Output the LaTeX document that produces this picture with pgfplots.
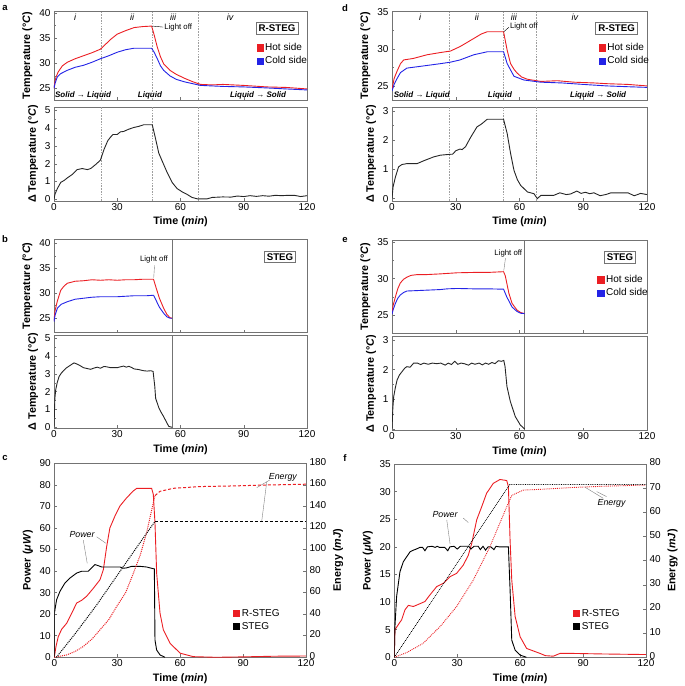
\documentclass[border=0pt]{standalone}
\usepackage{fontspec}
\setmainfont{Liberation Sans}
\usepackage{pgfplots}
\pgfplotsset{compat=1.18}
\definecolor{hot}{RGB}{235,30,35}
\definecolor{cold}{RGB}{35,35,230}
\definecolor{frame}{RGB}{115,115,115}
\tikzset{
  vdash/.style={gray!75, dash pattern=on 1.6pt off 1.2pt, line width=0.4pt},
  vsolid/.style={frame, line width=0.6pt},
  reg/.style={font=\itshape\fontsize{9}{10}\selectfont},
  phase/.style={font=\bfseries\itshape\fontsize{8}{9}\selectfont},
  lo/.style={font=\fontsize{7.8}{9}\selectfont, inner sep=1pt},
  boxlab/.style={draw=frame, line width=0.6pt, fill=white, font=\bfseries\fontsize{9.7}{11}\selectfont, inner sep=2.5pt},
  ann/.style={font=\itshape\fontsize{8.8}{10}\selectfont, inner sep=1pt},
  lead/.style={gray, line width=0.4pt},
}
\pgfplotsset{
  base/.style={scale only axis, axis line style={frame, line width=0.6pt},
    tick style={frame, line width=0.5pt}, major tick length=3pt, minor tick length=2pt,
    tick align=inside, xtick pos=bottom, ytick pos=left,
    tick label style={font=\fontsize{10}{12}\selectfont},
    xticklabel style={yshift=1.5pt},
    label style={font=\bfseries\fontsize{10.8}{13}\selectfont},
    /pgf/number format/assume math mode=true,
    xmin=0, xmax=120, xtick={0,30,60,90,120},
    legend cell align=left,
    legend image code/.code={\fill[##1] (0pt,-3pt) rectangle (6.2pt,3.2pt);},
    legend style={draw=none, fill=none, font=\fontsize{10}{12}\selectfont, inner sep=0pt, row sep=0.5pt, anchor=north west},
  },
  toppanel/.style={base, xticklabels={}, minor y tick num=1, ylabel={Temperature (°\textit{C})}},
  botpanel/.style={base, minor y tick num=1, xlabel={Time (\textit{min})}, ylabel={Δ Temperature (°\textit{C})}, ytick distance=1},
  hotl/.style={hot, line width=0.9pt, forget plot},
  coldl/.style={cold, line width=0.9pt, forget plot},
  dtl/.style={black!85, line width=0.9pt, forget plot},
}
\begin{document}
\begin{tikzpicture}
\path[use as bounding box] (0,0) rectangle (685pt,686pt);
% panel letters
\node[font=\bfseries\fontsize{9.5}{11}\selectfont] at (5pt,678pt) {a};
\node[font=\bfseries\fontsize{9.5}{11}\selectfont] at (345pt,678pt) {d};
\node[font=\bfseries\fontsize{9.5}{11}\selectfont] at (5pt,447pt) {b};
\node[font=\bfseries\fontsize{9.5}{11}\selectfont] at (345pt,446pt) {e};
\node[font=\bfseries\fontsize{9.5}{11}\selectfont] at (5pt,228pt) {c};
\node[font=\bfseries\fontsize{9.5}{11}\selectfont] at (345pt,228pt) {f};

%================ panel a top
\begin{axis}[toppanel, at={(54pt,586pt)}, anchor=south west, width=253pt, height=89pt,
  ymin=22.7, ymax=40.4, ytick={25,30,35,40}, legend style={at={(0.8,0.66)}}]
\addlegendimage{hot}\addlegendentry{Hot side}
\addlegendimage{cold}\addlegendentry{Cold side}
\draw[vdash] (axis cs:22.3,22.7) -- (axis cs:22.3,40.4);
\draw[vdash] (axis cs:46.5,22.7) -- (axis cs:46.5,40.4);
\draw[vdash] (axis cs:68.3,22.7) -- (axis cs:68.3,40.4);
\addplot[hotl] coordinates {(0,25) (0.5,26.5) (1,27.3) (2,28.3) (4,29.5) (6.3,30.2) (10,30.9) (14,31.5) (18,32.1) (22,32.8) (24,33.6) (27,34.8) (30,35.8) (34,36.5) (38,37.1) (42,37.3) (46.3,37.4) (47.4,35.8) (49,33.2) (50.5,31.3) (52,29.9) (55,28.6) (58,27.8) (62,27) (66,26.3) (69.5,25.8) (75,25.7) (80,25.8) (85,25.7) (90,25.6) (101,25.3) (110,25.2) (120,24.9)};
\addplot[coldl] coordinates {(0,25) (0.5,26) (1,26.6) (1.6,27.3) (3,27.9) (6.3,28.6) (10,29.2) (14,29.6) (18,30.2) (22,30.9) (26,31.5) (30,32.2) (34,32.7) (38,33) (46.3,33) (47.5,32.2) (49,30.9) (50.5,29.5) (52,28.6) (55,27.5) (58,26.8) (62,26.3) (69.5,25.6) (80,25.4) (90,25.3) (101,25.1) (110,24.9) (120,24.7)};
\node[reg] at (axis cs:10,39.2) {i};
\node[reg] at (axis cs:37,39.2) {ii};
\node[reg] at (axis cs:56.5,39.2) {iii};
\node[reg] at (axis cs:83.5,39.2) {iv};
\draw[lead, black] (axis cs:46.6,37.4) -- (axis cs:51.8,37.2);
\node[lo, anchor=west] at (axis cs:51.8,37.2) {Light off};
\node[boxlab] at (axis cs:105.8,37) {R-STEG};
\node[phase] at (axis cs:13.8,23.6) {Solid → Liquid};
\node[phase] at (axis cs:45.5,23.6) {Liquid};
\node[phase] at (axis cs:96.8,23.6) {Liquid → Solid};
\end{axis}
%================ panel a bottom
\begin{axis}[botpanel, at={(54pt,485pt)}, anchor=south west, width=253pt, height=94pt,
  ymin=-0.1, ymax=5.2]
\draw[vdash] (axis cs:22.3,-0.1) -- (axis cs:22.3,5.2);
\draw[vdash] (axis cs:46.5,-0.1) -- (axis cs:46.5,5.2);
\draw[vdash] (axis cs:68.3,-0.1) -- (axis cs:68.3,5.2);
\addplot[dtl] coordinates {(0,0) (0.5,0.3) (1.6,0.6) (3.2,0.95) (4.7,1.05) (6.3,1.2) (8.7,1.4) (11,1.67) (13.4,1.73) (15.8,1.67) (17.4,1.73) (19.7,1.95) (22,2.2) (23.7,2.8) (25.5,3.3) (26.8,3.5) (28,3.65) (30,3.65) (31.5,3.8) (33,3.82) (35.5,3.95) (38,4.05) (40,4.1) (42.6,4.2) (46.6,4.2) (48,3.5) (49.7,2.6) (51.5,2.1) (53.7,1.5) (56,0.95) (58.4,0.6) (61,0.4) (63,0.28) (65.5,0.1) (68,0.02) (72.6,0.02) (75,0.1) (80,0.13) (84,0.12) (87,0.18) (90,0.15) (93,0.2) (96,0.16) (99,0.2) (102,0.17) (105,0.22) (108,0.2) (111,0.22) (114,0.22) (117,0.15) (120,0.2)};
\end{axis}

%================ panel d top
\begin{axis}[toppanel, at={(392pt,586pt)}, anchor=south west, width=255pt, height=89pt,
  ymin=23.1, ymax=35.1, ytick={25,30,35}, legend style={at={(0.81,0.66)}}]
\addlegendimage{hot}\addlegendentry{Hot side}
\addlegendimage{cold}\addlegendentry{Cold side}
\draw[vdash] (axis cs:26.8,23.1) -- (axis cs:26.8,35.1);
\draw[vdash] (axis cs:52.4,23.1) -- (axis cs:52.4,35.1);
\draw[vdash] (axis cs:68,23.1) -- (axis cs:68,35.1);
\addplot[hotl] coordinates {(0,24.5) (1,26) (2.4,27) (4,28) (5.5,28.5) (10,28.7) (16.5,29.2) (22.8,29.5) (27.5,29.7) (32,30.3) (35,30.8) (38.5,31.4) (42,32) (44.8,32.3) (52.5,32.3) (54.2,29.8) (55.8,28) (57.5,27.2) (59,26.7) (61,26.2) (63.7,25.9) (70,25.6) (77.8,25.7) (85.7,25.5) (95,25.4) (101,25.3) (111,25.2) (120,25)};
\addplot[coldl] coordinates {(0,24.3) (1,25.2) (2.4,26) (4,26.8) (7,27.4) (15,27.7) (22.8,28.0) (27.5,28.2) (32,28.5) (38.5,29.2) (44.8,29.6) (52.5,29.6) (54.2,28) (57.4,26.3) (62,25.8) (70,25.5) (80,25.4) (90,25.2) (101,25.0) (110,24.9) (120,24.8)};
\node[reg] at (axis cs:13.2,34.25) {i};
\node[reg] at (axis cs:39.9,34.25) {ii};
\node[reg] at (axis cs:57.4,34.25) {iii};
\node[reg] at (axis cs:86.1,34.25) {iv};
\draw[lead, black] (axis cs:52.6,32.3) -- (axis cs:55,32.9);
\node[lo, anchor=west] at (axis cs:55,32.95) {Light off};
\node[boxlab] at (axis cs:105.7,32.8) {R-STEG};
\node[phase] at (axis cs:14,23.65) {Solid → Liquid};
\node[phase] at (axis cs:50.8,23.65) {Liquid};
\node[phase] at (axis cs:97,23.65) {Liquid → Solid};
\end{axis}
%================ panel d bottom
\begin{axis}[botpanel, at={(392pt,485pt)}, anchor=south west, width=255pt, height=94pt,
  ymin=-0.08, ymax=3.14]
\draw[vdash] (axis cs:26.8,-0.08) -- (axis cs:26.8,3.14);
\draw[vdash] (axis cs:52.4,-0.08) -- (axis cs:52.4,3.14);
\draw[vdash] (axis cs:68,-0.08) -- (axis cs:68,3.14);
\addplot[dtl] coordinates {(0,0) (0.5,0.4) (1.6,0.74) (3.1,1.09) (4.7,1.17) (7,1.2) (11.8,1.2) (15,1.3) (19.6,1.43) (22.8,1.49) (27.5,1.52) (28.5,1.52) (30,1.64) (32,1.7) (33,1.68) (34.6,1.78) (37,2.1) (40,2.46) (42,2.55) (44.8,2.72) (52.5,2.72) (54.2,2.23) (55.8,1.55) (57.4,0.97) (59,0.65) (60.5,0.46) (63.7,0.23) (66.8,0.17) (68.4,0) (70,0.11) (76,0.11) (79,0.2) (82,0.14) (84,0.16) (87,0.26) (89,0.18) (91,0.22) (93,0.17) (95,0.2) (98,0.1) (101,0.15) (103,0.2) (107,0.2) (111,0.2) (114,0.1) (117,0.18) (120,0.14)};
\end{axis}

%================ panel b top
\begin{axis}[toppanel, at={(54pt,353.3pt)}, anchor=south west, width=253pt, height=93.4pt,
  ymin=22.1, ymax=40.8, ytick={25,30,35,40}]
\draw[vsolid] (axis cs:56,22.1) -- (axis cs:56,40.8);
\addplot[hotl] coordinates {(0,24.5) (0.5,26.5) (1.5,28.3) (3.2,30.6) (4.7,31.4) (6.3,32) (10,32.4) (14,32.5) (18,32.7) (22,32.6) (26,32.7) (30,32.6) (34,32.7) (38,32.7) (42,32.8) (47.2,32.8) (48.5,31) (50,29) (52,27) (53.5,25.8) (55,25.1) (56,25)};
\addplot[coldl] coordinates {(0,24.3) (0.5,25.6) (1.6,27) (3.5,27.8) (6.3,28.3) (10,28.8) (14,29) (18,29.2) (22,29.3) (30,29.3) (38,29.5) (44,29.5) (47.2,29.6) (48.5,28.5) (50,27.2) (52,26) (53.5,25.3) (55,25) (56,25)};
\draw[lead] (axis cs:47.3,33.1) -- (axis cs:47.7,35.6);
\node[lo] at (axis cs:47.4,36.7) {Light off};
\node[boxlab] at (axis cs:107.2,37.3) {STEG};
\end{axis}
%================ panel b bottom
\begin{axis}[botpanel, at={(54pt,257.7pt)}, anchor=south west, width=253pt, height=93.3pt,
  ymin=-0.06, ymax=5.19]
\draw[vsolid] (axis cs:56,-0.06) -- (axis cs:56,5.19);
\addplot[dtl] coordinates {(0,0) (0.4,1.6) (0.8,2.1) (1.5,2.5) (2.4,2.85) (3.5,3.05) (4.7,3.2) (6,3.35) (7.9,3.5) (9.5,3.62) (11,3.55) (12.6,3.45) (14,3.35) (15.8,3.3) (17.4,3.26) (19,3.33) (20.5,3.38) (22,3.32) (23.7,3.42) (25,3.4) (26.8,3.35) (30,3.35) (31.5,3.4) (33,3.44) (34.3,3.38) (35.5,3.43) (37,3.35) (38,3.28) (40,3.25) (41,3.22) (42.5,3.18) (44.2,3.16) (46,3.18) (47,3.14) (47.8,2.3) (48.2,1.63) (49.8,1.07) (51,0.8) (52,0.6) (53.5,0.25) (54.5,0.04) (56,0)};
\end{axis}

%================ panel e top
\begin{axis}[toppanel, at={(392pt,352.7pt)}, anchor=south west, width=255pt, height=93.3pt,
  ymin=22.5, ymax=35.3, ytick={25,30,35}, legend style={at={(0.805,0.643)}}]
\addlegendimage{hot}\addlegendentry{Hot side}
\addlegendimage{cold}\addlegendentry{Cold side}
\draw[vsolid] (axis cs:62.4,22.5) -- (axis cs:62.4,35.3);
\addplot[hotl] coordinates {(0,25.2) (0.5,26.3) (1.6,27.5) (2.7,28.6) (3.9,29.4) (5.4,29.9) (7,30.2) (9,30.45) (11.8,30.55) (16,30.55) (22.7,30.65) (30.6,30.8) (38.4,30.85) (45,30.85) (52.5,30.95) (53.3,30.4) (55,28) (56.5,26.6) (58.8,25.7) (60.5,25.35) (62.4,25.2)};
\addplot[coldl] coordinates {(0,25.1) (0.5,25.7) (1.6,26.6) (2.7,27.3) (3.9,27.75) (5.5,28.1) (7,28.3) (15,28.4) (22.7,28.5) (26,28.6) (30.6,28.65) (38.4,28.6) (45,28.6) (52.5,28.55) (54,27.5) (56.5,26.1) (58.8,25.5) (60.5,25.25) (62.4,25.2)};
\draw[lead] (axis cs:52.6,31.1) -- (axis cs:53.4,32.8);
\node[lo] at (axis cs:54.7,33.4) {Light off};
\node[boxlab] at (axis cs:107.3,32.9) {STEG};
\end{axis}
%================ panel e bottom
\begin{axis}[botpanel, at={(392pt,255.3pt)}, anchor=south west, width=255pt, height=94pt,
  ymin=-0.06, ymax=3.11]
\draw[vsolid] (axis cs:62.4,-0.06) -- (axis cs:62.4,3.11);
\addplot[dtl] coordinates {(0,0) (0.4,0.7) (0.8,1.09) (1.6,1.4) (2.4,1.65) (3.5,1.82) (4.7,1.93) (6,2.05) (7,2.1) (8.5,2.08) (10.2,2.22) (12,2.22) (13.5,2.17) (15,2.22) (17,2.18) (19,2.22) (21,2.2) (23,2.22) (25,2.15) (26.5,2.22) (28,2.17) (29.5,2.28) (31,2.18) (32.5,2.22) (34,2.2) (36,2.15) (37.5,2.22) (39,2.18) (41,2.22) (42.5,2.16) (44,2.22) (45.5,2.18) (47,2.24) (48.5,2.2) (50,2.3) (51.5,2.28) (52.6,2.31) (53.2,2.1) (54.1,1.43) (55.7,0.92) (58,0.42) (60.4,0.13) (62.4,0)};
\end{axis}

%================ panel c
\begin{axis}[base, at={(54.3pt,28.7pt)}, anchor=south west, width=251.7pt, height=194pt,
  ymin=0, ymax=90, ytick distance=10, xlabel={Time (\textit{min})}, ylabel={Power (\textit{μW})},
  xticklabel style={yshift=-0.5pt},
  legend style={at={(0.71,0.26)}}]
\addlegendimage{hot}\addlegendentry{R-STEG}
\addlegendimage{black}\addlegendentry{STEG}
\addplot[hotl] coordinates {(0,0) (0.8,5) (1.9,9.6) (3.5,13) (5.9,15.8) (8.3,20.5) (10.7,25.2) (13,26.4) (15.4,28.3) (18.6,32) (21.8,36) (23.4,40.7) (25,51.6) (26.5,60) (28.9,65.5) (31.3,70.2) (34.5,74) (37.7,77.2) (39.3,78.4) (46.4,78.4) (47.2,75.6) (48,62.4) (48.8,39) (50.4,20.5) (52,12.7) (55.2,6.5) (60,1.9) (66.3,0.3) (77,0) (90,0.2) (105,0.5) (120,0.6)};
\addplot[dtl, black] coordinates {(0,0) (0.05,20.5) (1.1,26.7) (2.7,30.6) (5.1,34.5) (7.5,36.8) (10.7,39.1) (13,39.9) (16.2,39.9) (17.8,41.5) (19.4,43) (21,42.5) (22.6,41.9) (31.3,41.9) (33,41.3) (34.5,41.5) (36.9,42.2) (40.9,42.2) (44,41.9) (46.4,41.3) (47.7,41) (48,8) (48.8,3.4) (50.4,1.1) (52.8,0)};
\draw[lead] (axis cs:13.8,54.4) -- (axis cs:15.7,43.6);
\draw[lead] (axis cs:20.2,55.9) -- (axis cs:24.6,52.9);
\node[ann] at (axis cs:13.2,56.9) {Power};
\draw[lead] (axis cs:102.8,82.3) -- (axis cs:96.5,78.7);
\draw[lead] (axis cs:101.3,81.5) -- (axis cs:98.9,63.2);
\node[ann] at (axis cs:109,83.6) {Energy};
\end{axis}
\begin{axis}[base, at={(54.3pt,28.7pt)}, anchor=south west, width=251.7pt, height=194pt,
  axis x line=none, axis y line*=right, ytick pos=right, yticklabel style={yshift=1.5pt},
  ymin=0, ymax=180, ytick distance=20, ylabel={Energy (\textit{mJ})}]
\addplot[hot, line width=1pt, densely dotted] coordinates {(0,0) (5.9,2.2) (10,5.5) (13.8,10) (18,17) (21.8,25.5) (26,35) (29.7,47) (34,60) (37.7,78) (41,95) (44,115.5) (46,133) (48,150)};
\addplot[hot, line width=1pt, dash pattern=on 3pt off 2pt] coordinates {(48,150) (50.4,154) (56.8,156.8) (69.5,158.4) (85.4,159) (100,159.8) (120,160.6)};
\addplot[black, line width=1pt, densely dotted] coordinates {(1,0) (10,22) (20,48) (30,76) (40,104) (48,126)};
\addplot[black, line width=1pt, dash pattern=on 3pt off 2pt] coordinates {(48,126) (120,126)};
\end{axis}

%================ panel f
\begin{axis}[base, at={(394.3pt,28.7pt)}, anchor=south west, width=251.7pt, height=193.3pt,
  ymin=0, ymax=35, ytick distance=5, xlabel={Time (\textit{min})}, ylabel={Power (\textit{μW})},
  xticklabel style={yshift=-0.5pt},
  legend style={at={(0.71,0.26)}}]
\addlegendimage{hot}\addlegendentry{R-STEG}
\addlegendimage{black}\addlegendentry{STEG}
\addplot[hotl] coordinates {(0,0) (0.3,5) (1.9,5.9) (3.5,6.8) (5.1,8.6) (6.7,9.4) (9.1,9.2) (12.2,9.7) (14.6,10.1) (17,11.3) (20.2,12.8) (23.4,13.4) (26.6,14.6) (29.7,15.2) (32.9,16.7) (35.3,18.5) (36.9,20.6) (39.3,24.9) (41.7,27.3) (44,29.7) (47.2,31.5) (50.4,32.2) (53.6,32) (54.4,30.9) (55.2,21.2) (56,14) (57.6,7.4) (60,3.7) (63.1,1.6) (69.5,0.7) (72,0.3) (75.8,0.2) (79,0.7) (85.4,0.7) (100,0.6) (120,0.5)};
\addplot[dtl, black] coordinates {(0,0) (0.3,5.5) (1.1,11) (2.7,15.5) (4.3,17.3) (5.9,18.2) (7.5,19.1) (9.1,19.4) (10.5,19.6) (12.2,19.9) (13.5,19.9) (14.6,19.3) (15.8,20) (18,20.1) (19.5,19.9) (20.4,20.1) (21.5,19.9) (24,19.9) (25.5,19.3) (26.5,20) (28.5,20.1) (30,19.6) (31.5,20.1) (35.5,20.1) (36.5,19.6) (38,20.1) (40,20.1) (41,19.5) (42.3,20.1) (43.5,19.4) (44.7,20) (46,20) (47.5,19.5) (48.5,20.1) (50,20) (54.4,20) (55.2,12.2) (56,3.1) (57.6,1.3) (60,0.4) (63,0)};
\draw[lead] (axis cs:25,24.9) -- (axis cs:26.6,20.5);
\draw[lead] (axis cs:32.9,25.2) -- (axis cs:35.3,24.4);
\node[ann] at (axis cs:24.2,25.8) {Power};
\draw[lead] (axis cs:99.6,28.8) -- (axis cs:90.9,30.8);
\draw[lead] (axis cs:101.2,29.1) -- (axis cs:96.5,30);
\node[ann] at (axis cs:103.6,27.9) {Energy};
\end{axis}
\begin{axis}[base, at={(394.3pt,28.7pt)}, anchor=south west, width=251.7pt, height=193.3pt,
  axis x line=none, axis y line*=right, ytick pos=right, yticklabel style={yshift=1.5pt},
  ymin=0, ymax=80, ytick distance=10, ylabel={Energy (\textit{mJ})}]
\addplot[hot, line width=0.9pt, densely dotted] coordinates {(0,0) (6,2) (13.8,5.8) (21.8,12.7) (29.7,21) (37.7,32) (45.6,45.8) (53.6,62.3) (56,67) (61.5,69.2) (69.5,69.5) (85.4,70.3) (100,70.8) (120,71.3)};
\addplot[black, line width=0.8pt, densely dotted] coordinates {(0,0) (55,71.5) (120,71.5)};
\end{axis}
\end{tikzpicture}
\end{document}
